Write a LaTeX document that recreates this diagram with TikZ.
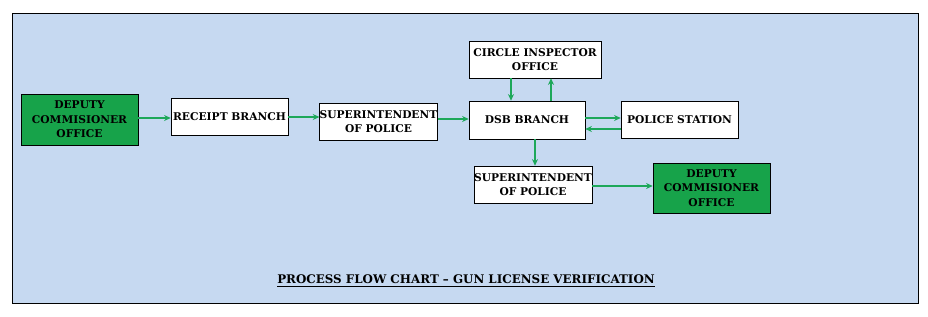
\documentclass[tikz,border=0pt]{standalone}
\usepackage{fontspec}
\setmainfont{DejaVu Serif}
\usepackage{xcolor}
\usetikzlibrary{arrows.meta, positioning, calc}
\definecolor{bgblue}{HTML}{C6D9F1}
\definecolor{boxgreen}{HTML}{17A34A}
\definecolor{arrgreen}{HTML}{1DA85A}

\begin{document}
\begin{tikzpicture}[x=0.75pt, y=-0.75pt, >={Stealth[length=5pt,width=4.5pt]},
  every node/.style={font=\bfseries\fontsize{8}{10.8}\selectfont, align=center},
  office/.style={draw=black, fill=white, inner sep=0pt},
  dcoffice/.style={office, fill=boxgreen},
  flow/.style={->, arrgreen, thick}]
  \useasboundingbox (0,0) rectangle (928,317);
  \draw[fill=bgblue, draw=black] (12,13) rectangle (918,303);
  % boxes
  \node[dcoffice, minimum width=117*0.75pt, minimum height=51*0.75pt] (dc1) at (79.5,119.5) {DEPUTY\\COMMISIONER\\OFFICE};
  \node[office, minimum width=117*0.75pt, minimum height=37*0.75pt] (receipt) at (229.5,116.5) {RECEIPT BRANCH};
  \node[office, minimum width=117*0.75pt, minimum height=37*0.75pt] (sp1) at (378.5,121.5) {SUPERINTENDENT\\OF POLICE};
  \node[office, minimum width=116*0.75pt, minimum height=38*0.75pt] (dsb) at (527,120) {DSB BRANCH};
  \node[office, minimum width=132*0.75pt, minimum height=37*0.75pt] (ci) at (535,59.5) {CIRCLE INSPECTOR\\OFFICE};
  \node[office, minimum width=117*0.75pt, minimum height=37*0.75pt] (ps) at (679.5,119.5) {POLICE STATION};
  \node[office, minimum width=116*0.75pt, minimum height=37*0.75pt] (sp2) at (533,184.5) {SUPERINTENDENT\\OF POLICE};
  \node[dcoffice, minimum width=117*0.75pt, minimum height=50*0.75pt] (dc2) at (711.5,188) {DEPUTY\\COMMISIONER\\OFFICE};
  % connectors
  \draw[flow] (dc1.east |- 0,118) -- (receipt.west |- 0,118);
  \draw[flow] (receipt.east |- 0,117) -- (sp1.west |- 0,117);
  \draw[flow] (sp1.east |- 0,119) -- (dsb.west |- 0,119);
  \draw[flow] (ci.south -| 511,0) -- (dsb.north -| 511,0);
  \draw[flow] (dsb.north -| 551,0) -- (ci.south -| 551,0);
  \draw[flow] (dsb.east |- 0,118) -- (ps.west |- 0,118);
  \draw[flow] (ps.west |- 0,129) -- (dsb.east |- 0,129);
  \draw[flow] (dsb.south -| 535,0) -- (sp2.north -| 535,0);
  \draw[flow] (sp2.east |- 0,186) -- (dc2.west |- 0,186);
  % title
  \node[font=\bfseries\fontsize{8.9}{10.8}\selectfont] (title) at (466,281) {\underline{PROCESS FLOW CHART -- GUN LICENSE VERIFICATION}};
\end{tikzpicture}
\end{document}
